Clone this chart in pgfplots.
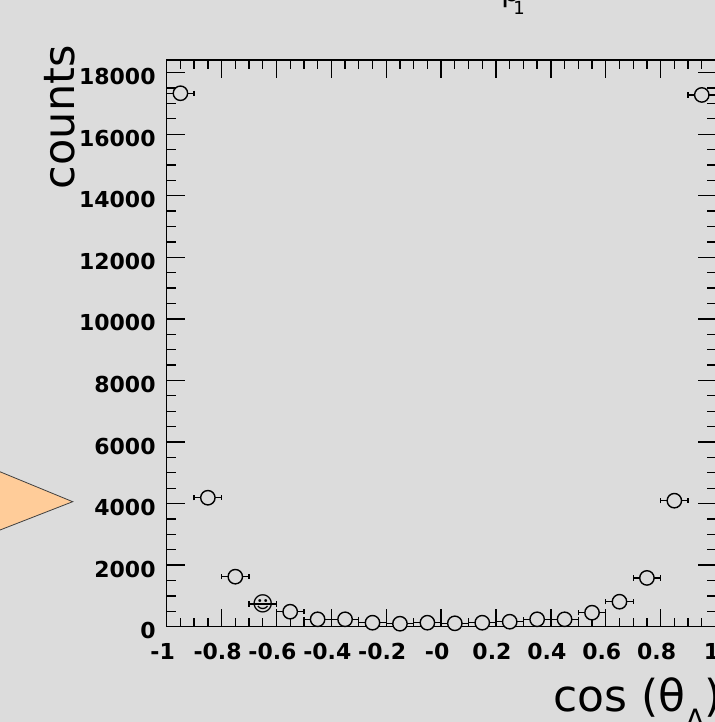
\documentclass[border=0pt]{standalone}
\usepackage{fontspec}
\setmainfont{DejaVu Sans}
\usepackage{pgfplots}
\pgfplotsset{compat=1.18}
\definecolor{bg}{RGB}{220,220,220}
\definecolor{tri}{RGB}{255,204,153}
\begin{document}
\begin{tikzpicture}[x=0.5pt,y=0.5pt]
\useasboundingbox (0,0) rectangle (715,722);
\clip (0,0) rectangle (715,722);
\fill[bg] (-5,-5) rectangle (720,727);
\filldraw[fill=tri, draw=black!75, line width=0.4pt] (-40,266.7) -- (72.7,220.3) -- (-40,176.4) -- cycle;
\begin{axis}[
  at={(83.35pt,47.65pt)}, anchor=south west,
  scale only axis, width=274.4pt, height=283.35pt,
  xmin=-1, xmax=1, ymin=0, ymax=18410,
  scaled y ticks=false, scaled x ticks=false,
  axis line style={line width=0.7pt, black},
  xtick={-1,-0.8,-0.6,-0.4,-0.2,0,0.2,0.4,0.6,0.8,1},
  xticklabels={-1,-0.8,-0.6,-0.4,-0.2,-0,0.2,0.4,0.6,0.8,1},
  ytick={0,2000,4000,6000,8000,10000,12000,14000,16000,18000},
  yticklabels={0,2000,4000,6000,8000,10000,12000,14000,16000,18000},
  minor x tick num=3, minor y tick num=3,
  tick align=inside,
  major tick length=9pt, minor tick length=4.5pt,
  every tick/.style={black, line width=0.65pt},
  tick label style={font=\bfseries\fontsize{11}{13}\selectfont},
  xticklabel style={anchor=north, inner sep=0pt, yshift=-8.2pt, xshift=-2pt},
  yticklabel style={anchor=east, inner sep=0pt, xshift=-5.35pt, yshift=-2pt},
]
\addplot[only marks, mark=*, mark size=3.6pt,
  mark options={fill=bg, draw=black, line width=0.7pt},
  error bars/.cd, x dir=both, x fixed=0.05, error mark=|,
  error bar style={line width=0.65pt, black},
  error mark options={mark size=1.3pt, line width=0.65pt, black}]
coordinates {
(-0.95,17330) (-0.85,4190) (-0.75,1625) (-0.55,487) (-0.45,240)
(-0.35,240) (-0.25,130) (-0.15,97) (-0.05,130) (0.05,110)
(0.15,130) (0.25,162) (0.35,240) (0.45,240) (0.55,455)
(0.65,812) (0.75,1585) (0.85,4094) (0.95,17275)
};
\addplot[only marks, mark=text, text mark={\fontsize{10.5}{11}\selectfont ☺},
  error bars/.cd, x dir=both, x fixed=0.05, error mark=|,
  error bar style={line width=0.65pt, black},
  error mark options={mark size=1.3pt, line width=0.65pt, black}]
coordinates {(-0.65,737)};
\end{axis}
\node[rotate=90, anchor=base east, inner sep=0pt, font=\fontsize{21.5}{24}\selectfont] at (74.5,677) {counts};
\node[anchor=base west, inner sep=0pt, font=\fontsize{22}{26}\selectfont] at (553,10.3) {cos (θ\raisebox{-9pt}{\fontsize{14}{16}\selectfont Λ})};
\node[anchor=base west, inner sep=0pt, font=\fontsize{15}{18}\selectfont] at (501,720) {p};
\node[anchor=base west, inner sep=0pt, font=\fontsize{9}{11}\selectfont] at (513,707) {1};
\end{tikzpicture}
\end{document}
